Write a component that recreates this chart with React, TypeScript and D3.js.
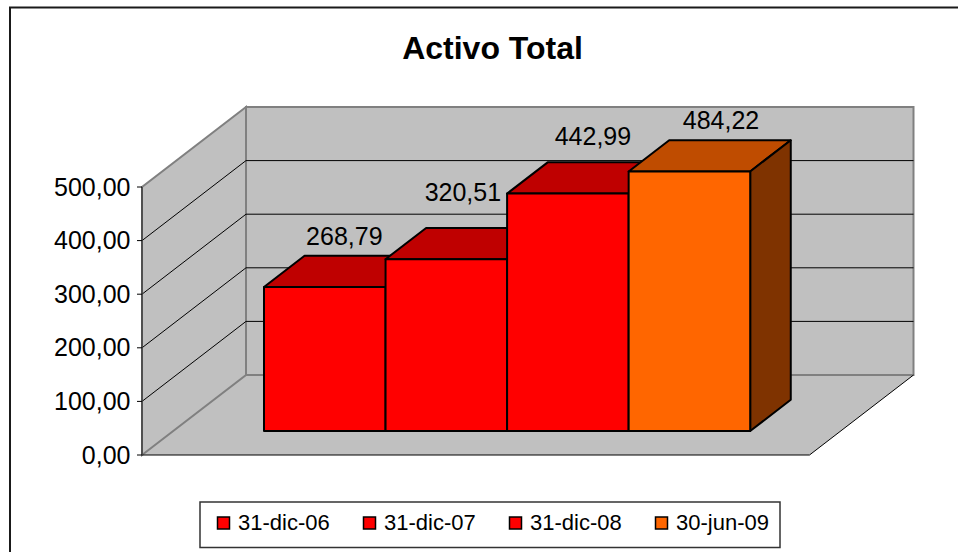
import React from 'react';
import * as d3 from 'd3';

const categories = ['31-dic-06', '31-dic-07', '31-dic-08', '30-jun-09'];
const values = [268.79, 320.51, 442.99, 484.22];
const valueLabels = ['268,79', '320,51', '442,99', '484,22'];
const barColors = ['#FF0000', '#FF0000', '#FF0000', '#FF6600'];
const topColors = ['#BF0000', '#BF0000', '#BF0000', '#BF4C00'];
const sideColors = ['#7F0000', '#7F0000', '#7F0000', '#7F3300'];
const yTicks = [0, 100, 200, 300, 400, 500];
const yTickLabels = ['0,00', '100,00', '200,00', '300,00', '400,00', '500,00'];
// hand placed data labels, the original dodges them around the bars
const labelDx = [-21, -24, -15.5, -9];
const labelDy = [-10.5, -27, -17, -10.8];

const FONT = '"Liberation Sans", Arial, sans-serif';
const W = 958;
const H = 552;

const y = d3.scaleLinear().domain([0, 500]).range([455, 187]);
// depth 0 = front of floor, 1 = back wall
const depthX = d3.scaleLinear().domain([0, 1]).range([0, 104]);
const depthY = d3.scaleLinear().domain([0, 1]).range([0, -80]);
// floor width at the front edge
const floorX = d3.scaleLinear().domain([0, 1]).range([142, 809.5]);
const band = d3.scaleBand().domain(categories).range([232.8, 719]);

const BAR_FRONT = 0.3;
const BAR_BACK = 0.69;

const pt = (x: number, v: number, z: number): [number, number] => [x + depthX(z), y(v) + depthY(z)];
const poly = (pts: [number, number][]) => d3.line()(pts) + 'Z';

export default function App() {
  const left = floorX(0);
  const right = floorX(1);
  const legendItems = [217, 363, 509, 655];

  return (
    <svg width={W} height={H} style={{position: 'absolute', left: 0, top: 0, background: '#fff'}}>
      {/* chart frame runs off the page on the right and bottom */}
      <rect x={10} y={7.5} width={1000} height={600} fill="#fff" stroke="#1a1a1a" strokeWidth={2} />
      <text x={492.5} y={58.5} textAnchor="middle" fontFamily={FONT} fontWeight="bold" fontSize={32}>
        Activo Total
      </text>

      {/* floor */}
      <path d={poly([pt(left, 0, 0), pt(right, 0, 0), pt(right, 0, 1), pt(left, 0, 1)])} fill="#C0C0C0" />
      {/* back wall */}
      <path
        d={poly([pt(left, 0, 1), pt(right, 0, 1), pt(right, 500, 1), pt(left, 500, 1)])}
        fill="#C0C0C0"
        stroke="#808080"
        strokeWidth={2}
      />
      {/* left wall */}
      <path
        d={poly([pt(left, 0, 0), pt(left, 0, 1), pt(left, 500, 1), pt(left, 500, 0)])}
        fill="#C0C0C0"
        stroke="#808080"
        strokeWidth={2}
      />

      {/* grid lines, wall top stays grey */}
      {yTicks.slice(1, -1).map((t) => (
        <path
          key={t}
          d={d3.line()([pt(left, t, 0), pt(left, t, 1), pt(right, t, 1)]) as string}
          fill="none"
          stroke="#000"
          strokeWidth={1}
        />
      ))}
      <path d={d3.line()([pt(right, 0, 0), pt(right, 0, 1)]) as string} stroke="#000" strokeWidth={1} />

      {/* axis */}
      <path d={d3.line()([pt(left, 0, 0), pt(right, 0, 0)]) as string} stroke="#000" strokeWidth={1} />
      <path d={d3.line()([pt(left, 0, 0), pt(left, 500, 0)]) as string} stroke="#404040" strokeWidth={1.5} />
      {yTicks.map((t, i) => (
        <g key={t}>
          <path d={d3.line()([[left - 5, y(t)], [left, y(t)]]) as string} stroke="#000" strokeWidth={1} />
          <text x={left - 11.5} y={y(t) + 8.5} textAnchor="end" fontFamily={FONT} fontSize={25} fill="#000">
            {yTickLabels[i]}
          </text>
        </g>
      ))}

      {/* bars */}
      {categories.map((c, i) => {
        const x0 = band(c) as number;
        const x1 = x0 + band.bandwidth();
        const v = values[i];
        return (
          <g key={c} stroke="#000" strokeWidth={2} strokeLinejoin="round">
            <path
              d={poly([pt(x0, v, BAR_FRONT), pt(x1, v, BAR_FRONT), pt(x1, v, BAR_BACK), pt(x0, v, BAR_BACK)])}
              fill={topColors[i]}
            />
            <path
              d={poly([pt(x1, 0, BAR_FRONT), pt(x1, v, BAR_FRONT), pt(x1, v, BAR_BACK), pt(x1, 0, BAR_BACK)])}
              fill={sideColors[i]}
            />
            <path
              d={poly([pt(x0, 0, BAR_FRONT), pt(x1, 0, BAR_FRONT), pt(x1, v, BAR_FRONT), pt(x0, v, BAR_FRONT)])}
              fill={barColors[i]}
            />
          </g>
        );
      })}
      {/* data labels */}
      {categories.map((c, i) => {
        const [lx, ly] = pt((band(c) as number) + band.bandwidth() / 2, values[i], BAR_BACK);
        return (
          <text
            key={c}
            x={lx + labelDx[i]}
            y={ly + labelDy[i]}
            textAnchor="middle"
            fontFamily={FONT}
            fontSize={25}
            fill="#000">
            {valueLabels[i]}
          </text>
        );
      })}

      {/* legend */}
      <rect x={200} y={502} width={580} height={45.5} fill="#fff" stroke="#333" strokeWidth={1.5} />
      {categories.map((c, i) => (
        <g key={c}>
          <rect
            x={legendItems[i] + 0.5}
            y={517}
            width={12}
            height={12}
            fill={barColors[i]}
            stroke="#000"
            strokeWidth={1.5}
          />
          <text x={legendItems[i] + 21} y={530} fontFamily={FONT} fontSize={22} fill="#000">
            {c}
          </text>
        </g>
      ))}
    </svg>
  );
}
